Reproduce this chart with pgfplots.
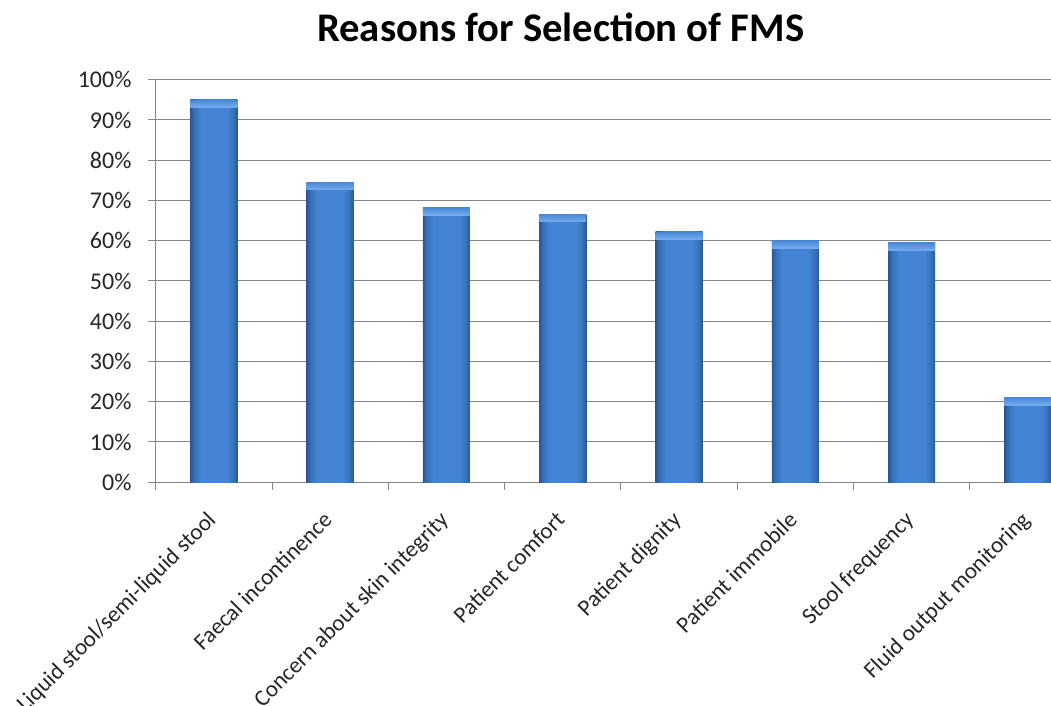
\documentclass[border=0pt]{standalone}
\usepackage{pgfplots}
\pgfplotsset{compat=1.18}
\usetikzlibrary{shapes.geometric}
\usepackage{fontspec}
\setmainfont{Carlito}

\definecolor{gridgray}{HTML}{868686}
\definecolor{barEdge}{HTML}{2A5792}
\definecolor{barSide}{HTML}{3770B8}
\definecolor{barMid}{HTML}{4384D4}
\definecolor{bevelLight}{HTML}{74ABEE}
\definecolor{bevelDark}{HTML}{4A8AD7}
\definecolor{txt}{HTML}{262626}

% cylinder-like gradient across each bar: dark rims, light centre
\pgfdeclarehorizontalshading{bargrad}{100bp}{%
  color(0bp)=(barEdge); color(25bp)=(barEdge);
  color(29bp)=(barSide); color(36bp)=(barMid);
  color(64bp)=(barMid); color(71bp)=(barSide);
  color(75bp)=(barEdge); color(100bp)=(barEdge)}

\pgfplotstableread{
x  share
0  95.0
1  74.5
2  68.2
3  66.6
4  62.2
5  60.0
6  59.5
7  21.0
}\reasons

\begin{document}
\begin{tikzpicture}
\begin{axis}[
  scale only axis,
  width=672.1pt, height=301.95pt,
  xmin=-0.5, xmax=7.205,
  ymin=0, ymax=100,
  axis x line*=bottom, axis y line*=left,
  axis line style={gridgray, line width=0.75pt},
  tick align=outside,
  major tick length=5.6pt,
  tick style={gridgray, line width=0.75pt},
  ymajorgrids,
  grid style={gridgray, line width=0.75pt},
  ytick={0,10,...,100},
  yticklabels={0\%,10\%,20\%,30\%,40\%,50\%,60\%,70\%,80\%,90\%,100\%},
  yticklabel style={inner sep=0pt, xshift=-12.4pt,
    font=\fontsize{18}{21}\selectfont},
  xtick={-0.5,0.5,...,6.5},
  xticklabels={},
  % category names, each ending just below its bar
  extra x ticks={-0.07,0.93,1.93,2.93,3.93,4.93,5.93,6.93},
  extra x tick labels={Liquid stool/semi-liquid stool, Faecal incontinence,
    Concern about skin integrity, Patient comfort, Patient dignity,
    Patient immobile, Stool frequency, Fluid output monitoring},
  extra x tick style={tick style={draw=none}},
  xticklabel shift=15pt,
  xticklabel style={rotate=45, anchor=north east, inner sep=0pt,
    font=\fontsize{17.3}{20}\selectfont},
  ticklabel style={text=txt},
  every axis title shift=0pt,
  title={Reasons for Selection of FMS},
  title style={font=\bfseries\fontsize{30.5}{34}\selectfont, text=black,
    at={(axis description cs:0.452,1.094)}, anchor=base},
  clip=false,
]
% one plot per category so that every bar gets its own gradient;
% the empty node at each bar top draws the bevelled top face
\pgfplotsinvokeforeach{0,...,7}{
  \addplot[ybar, bar width=0.404, bar shift=0pt, draw=none,
    shading=bargrad, restrict x to domain=#1:#1,
    nodes near coords={},
    every node near coord/.style={
      trapezium, trapezium angle=45, trapezium stretches body=true,
      minimum width=35.2pt, minimum height=5.4pt, inner sep=0pt,
      rotate=180, anchor=south, draw=none,
      top color=bevelDark, bottom color=bevelLight}]
    table[x=x, y=share] {\reasons};
}
\end{axis}
\pgfresetboundingbox
\path[use as bounding box] (-116.8pt,-167.8pt) rectangle (671.5pt,361.7pt);
\end{tikzpicture}
\end{document}
